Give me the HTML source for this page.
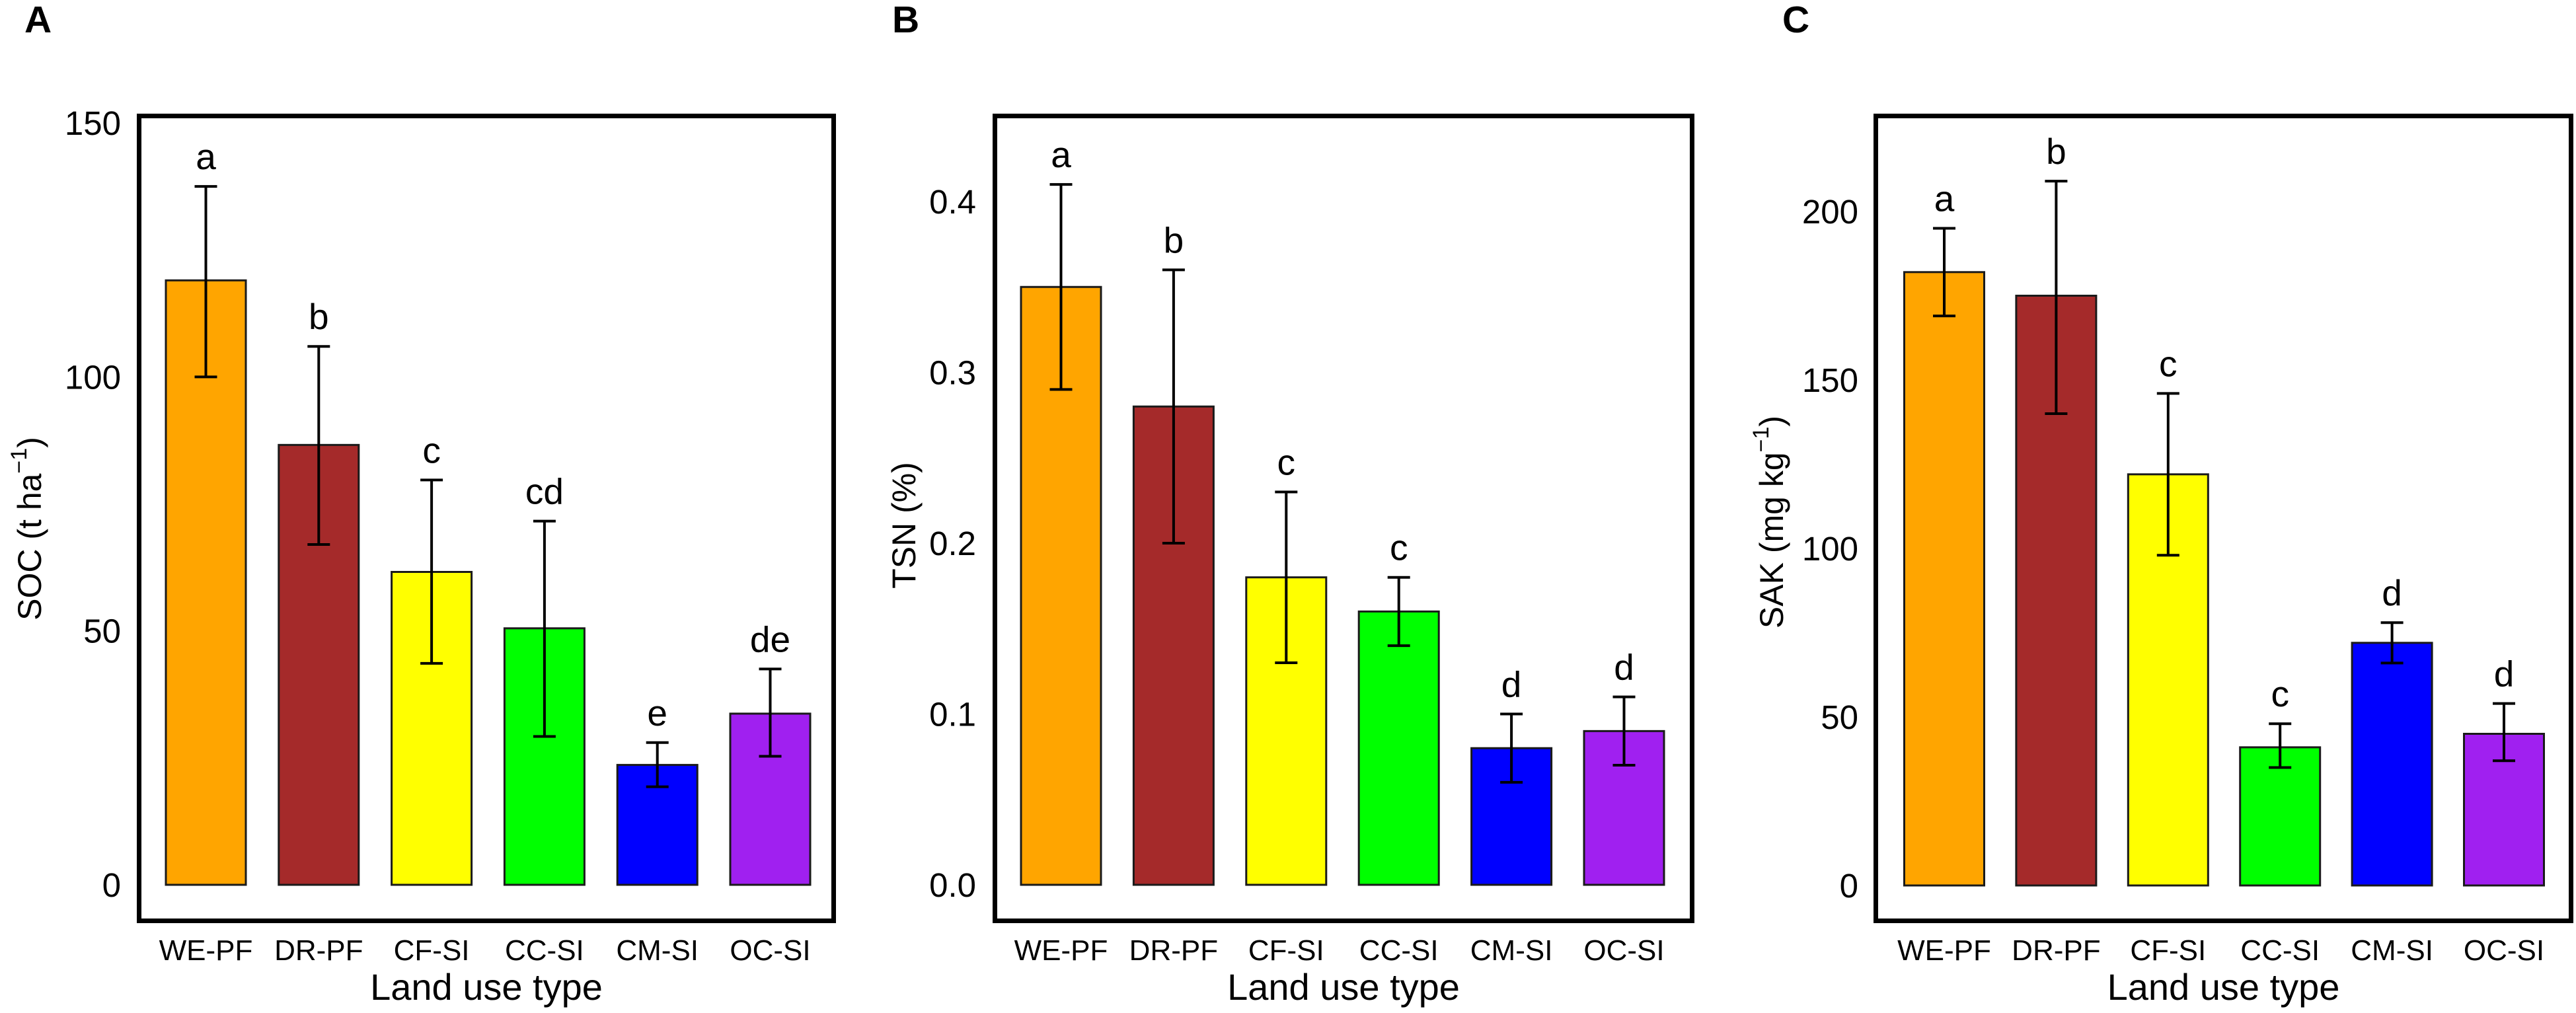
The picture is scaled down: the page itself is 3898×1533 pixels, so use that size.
<!DOCTYPE html>
<html><head><meta charset="utf-8"><style>
html,body{margin:0;padding:0;background:#fff;}
svg{display:block;font-family:"Liberation Sans",Arial,sans-serif;}
</style></head><body>
<svg id="chart" width="3898" height="1533" viewBox="0 0 3898 1533" xmlns="http://www.w3.org/2000/svg"></svg>
<script>
const categories = ["WE-PF","DR-PF","CF-SI","CC-SI","CM-SI","OC-SI"];
const barColors = ["#FFA500","#A52A2A","#FFFF00","#00FF00","#0000FF","#A020F0"];
const socMean = [119, 86.6, 61.6, 50.5, 23.6, 33.7];
const socLow = [100, 67, 43.6, 29.2, 19.3, 25.3];
const socHigh = [137.5, 106, 79.7, 71.6, 28, 42.5];
const socLetters = ["a","b","c","cd","e","de"];
const socTicks = [0, 50, 100, 150];
const socTickLabels = ["0","50","100","150"];
const tsnMean = [0.35, 0.28, 0.18, 0.16, 0.08, 0.09];
const tsnLow = [0.29, 0.20, 0.13, 0.14, 0.06, 0.07];
const tsnHigh = [0.41, 0.36, 0.23, 0.18, 0.10, 0.11];
const tsnLetters = ["a","b","c","c","d","d"];
const tsnTicks = [0, 0.1, 0.2, 0.3, 0.4];
const tsnTickLabels = ["0.0","0.1","0.2","0.3","0.4"];
const sakMean = [182, 175, 122, 41, 72, 45];
const sakLow = [169, 140, 98, 35, 66, 37];
const sakHigh = [195, 209, 146, 48, 78, 54];
const sakLetters = ["a","b","c","c","d","d"];
const sakTicks = [0, 50, 100, 150, 200];
const sakTickLabels = ["0","50","100","150","200"];

const NS = "http://www.w3.org/2000/svg";
const svg = document.getElementById("chart");
function mk(tag, attrs, parent, text){
  const e = document.createElementNS(NS, tag);
  for (const k in attrs) e.setAttribute(k, attrs[k]);
  if (text !== undefined) e.textContent = text;
  (parent||svg).appendChild(e);
  return e;
}

function panel(cfg){
  const g = mk("g", {});
  
  
  const y = v => cfg.zeroY - (v - 0) * (cfg.zeroY - cfg.refY) / cfg.refV;
  const xc = i => cfg.first + i * cfg.step;
  const bw = 121;

  const letter = mk("text", {x: cfg.letterX, y: 49, "font-size": 57, "font-weight": "bold"}, g, cfg.id);
  
  

  cfg.ticks.forEach((t, i) => {
    const tl = mk("text", {x: cfg.tickRight, y: y(t) + 18, "font-size": 51, "text-anchor": "end"}, g, cfg.tickLabels[i]);
    
    
  });

  categories.forEach((c, i) => {
    const cx = xc(i);
    const top = y(cfg.mean[i]);
    const bar = mk("rect", {x: cx - bw/2, y: top, width: bw, height: cfg.zeroY - top, fill: barColors[i], stroke: "#1a1a1a", "stroke-width": 3}, g);
    
    
    const yl = y(cfg.low[i]), yh = y(cfg.high[i]);
    const eb = mk("path", {d: `M${cx} ${yl}V${yh}M${cx-17} ${yh}H${cx+17}M${cx-17} ${yl}H${cx+17}`, stroke: "#000", "stroke-width": 4, fill: "none"}, g);
    
    
    const sl = mk("text", {x: cx, y: yh - 26, "font-size": 55, "text-anchor": "middle"}, g, cfg.letters[i]);
    
    
    const xl = mk("text", {x: cx, y: 1453, "font-size": 44, "text-anchor": "middle"}, g, c);
    
    
  });

  const box = mk("rect", {x: cfg.x0 + 3.5, y: 175.5, width: cfg.x1 - cfg.x0 - 7, height: 1397 - 172 - 7, fill: "none", stroke: "#000", "stroke-width": 7}, g);
  
  

  const xt = mk("text", {x: (cfg.x0 + cfg.x1)/2, y: 1513, "font-size": 56, "text-anchor": "middle"}, g, "Land use type");
  
  

  const yt = mk("text", {x: 0, y: 0, "font-size": 50, "text-anchor": "middle", transform: `translate(${cfg.titleX},${cfg.titleY}) rotate(-90)`}, g);
  
  
  yt.innerHTML = cfg.title;
}

panel({id:"A", x0:207, x1:1265, tickRight:183, zeroY:1339, refV:150, refY:186, first:311.5, step:170.8, letterX:37, titleX:62, titleY:800,
  mean:socMean, low:socLow, high:socHigh, letters:socLetters, ticks:socTicks, tickLabels:socTickLabels,
  title:'SOC (t ha<tspan dy="-22" font-size="34">−1</tspan><tspan dy="22">)</tspan>'});
panel({id:"B", x0:1502, x1:2564, tickRight:1477, zeroY:1339, refV:0.4, refY:305, first:1605.5, step:170.4, letterX:1350, titleX:1385, titleY:795,
  mean:tsnMean, low:tsnLow, high:tsnHigh, letters:tsnLetters, ticks:tsnTicks, tickLabels:tsnTickLabels,
  title:'TSN (%)'});
panel({id:"C", x0:2835, x1:3894, tickRight:2812, zeroY:1340, refV:200, refY:320, first:2942, step:169.4, letterX:2697, titleX:2698, titleY:790,
  mean:sakMean, low:sakLow, high:sakHigh, letters:sakLetters, ticks:sakTicks, tickLabels:sakTickLabels,
  title:'SAK (mg kg<tspan dy="-22" font-size="34">−1</tspan><tspan dy="22">)</tspan>'});
</script>
</body></html>
